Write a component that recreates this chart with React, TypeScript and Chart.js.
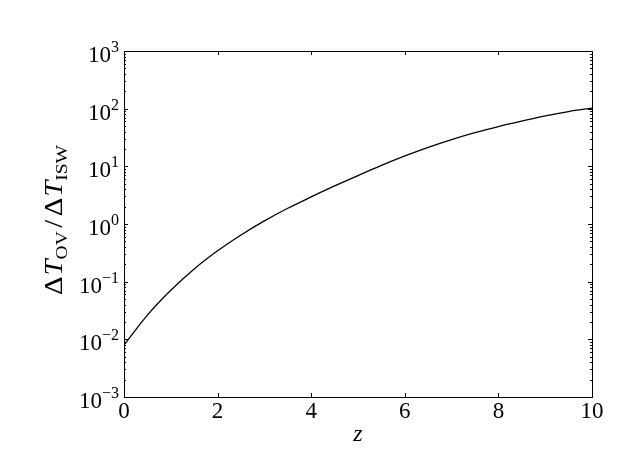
import { useEffect, useRef } from "react";
import { Chart, registerables } from "chart.js";

Chart.register(...registerables);

// ---- data ----
const zValues = [0, 0.5, 1, 1.5, 2, 2.5, 3, 3.5, 4, 4.5, 5, 5.5, 6, 6.5, 7, 7.5, 8, 8.5, 9, 9.5, 10];
const ratioValues = [
  0.00794, 0.0263, 0.0708, 0.166, 0.343, 0.646, 1.135, 1.875, 2.951, 4.571, 6.918,
  10.35, 15.14, 21.38, 29.17, 38.46, 48.98, 60.95, 74.99, 89.13, 102.3,
];
const xTickValues = [0, 2, 4, 6, 8, 10];
const xTickLabels = ["0", "2", "4", "6", "8", "10"];
const yTickExponents = [-3, -2, -1, 0, 1, 2, 3];
const yTickBase = "10";
const xAxisTitle = "z";
const yTitleParts = [
  { text: "Δ", style: "normal", sub: false, gapAfter: 1 },
  { text: "T", style: "italic", sub: false, gapAfter: 0 },
  { text: "OV", style: "normal", sub: true, gapAfter: 3 },
  { text: "/", style: "normal", sub: false, gapAfter: 3 },
  { text: "Δ", style: "normal", sub: false, gapAfter: 1 },
  { text: "T", style: "italic", sub: false, gapAfter: 0 },
  { text: "ISW", style: "normal", sub: true, gapAfter: 0 },
];

const FAMILY = '"Liberation Serif", "DejaVu Serif", serif';
const MAIN = 23;
const TITLE_MAIN = 25;
const TITLE_SUB = 17;
const SMALL = 16;
const Y_TITLE_LENGTH = 150;

function font(style: string, size: number) {
  return `${style === "italic" ? "italic " : ""}${size}px ${FAMILY}`;
}

const framePlugin = {
  id: "framePlugin",
  afterDraw(chart: any) {
    const ctx = chart.ctx as CanvasRenderingContext2D;
    const ca = chart.chartArea;
    const xs = chart.scales.x;
    const ys = chart.scales.y;
    ctx.save();
    ctx.strokeStyle = "#000";
    ctx.lineWidth = 1;
    // frame
    ctx.strokeRect(Math.round(ca.left) + 0.5, Math.round(ca.top) + 0.5, Math.round(ca.right - ca.left), Math.round(ca.bottom - ca.top));
    // x ticks
    ctx.beginPath();
    for (const v of xTickValues) {
      const px = Math.round(xs.getPixelForValue(v)) + 0.5;
      ctx.moveTo(px, ca.bottom);
      ctx.lineTo(px, ca.bottom - 4);
      ctx.moveTo(px, ca.top);
      ctx.lineTo(px, ca.top + 4);
    }
    // y ticks (major + minor)
    for (let i = 0; i < yTickExponents.length; i++) {
      const e = yTickExponents[i];
      const py = Math.round(ys.getPixelForValue(Math.pow(10, e))) + 0.5;
      ctx.moveTo(ca.left, py);
      ctx.lineTo(ca.left + 4, py);
      ctx.moveTo(ca.right, py);
      ctx.lineTo(ca.right - 4, py);
      if (i < yTickExponents.length - 1) {
        for (let m = 2; m <= 9; m++) {
          const my = Math.round(ys.getPixelForValue(m * Math.pow(10, e))) + 0.5;
          ctx.moveTo(ca.left, my);
          ctx.lineTo(ca.left + 2, my);
          ctx.moveTo(ca.right, my);
          ctx.lineTo(ca.right - 2, my);
        }
      }
    }
    ctx.stroke();

    ctx.fillStyle = "#000";
    // x tick labels
    ctx.textAlign = "center";
    ctx.textBaseline = "alphabetic";
    ctx.font = font("normal", MAIN);
    xTickValues.forEach((v, i) => {
      ctx.fillText(xTickLabels[i], xs.getPixelForValue(v), ca.bottom + 21);
    });
    // y tick labels
    for (const e of yTickExponents) {
      const py = ys.getPixelForValue(Math.pow(10, e));
      const expText = e < 0 ? "\u2212" + Math.abs(e) : String(e);
      ctx.font = font("normal", SMALL);
      const ew = ctx.measureText(expText).width;
      const right = ca.left - 5;
      ctx.textAlign = "left";
      ctx.fillText(expText, right - ew, py + 1);
      ctx.font = font("normal", MAIN);
      ctx.textAlign = "right";
      ctx.fillText(yTickBase, right - ew, py + 11);
    }
    // x title
    ctx.textAlign = "center";
    ctx.font = font("italic", MAIN + 1);
    ctx.fillText(xAxisTitle, (ca.left + ca.right) / 2, ca.bottom + 44);

    // y title (rotated)
    ctx.textAlign = "left";
    let total = 0;
    const widths = yTitleParts.map((p) => {
      ctx.font = font(p.style, p.sub ? TITLE_SUB : TITLE_MAIN);
      const w = ctx.measureText(p.text).width + p.gapAfter;
      total += w;
      return w;
    });
    const sx = Y_TITLE_LENGTH / total;
    ctx.translate(62, (ca.top + ca.bottom) / 2 - 4);
    ctx.rotate(-Math.PI / 2);
    ctx.scale(sx, 1);
    let x = -total / 2;
    yTitleParts.forEach((p, i) => {
      ctx.font = font(p.style, p.sub ? TITLE_SUB : TITLE_MAIN);
      ctx.fillText(p.text, x, p.sub ? 5 : 0);
      x += widths[i];
    });
    ctx.restore();
  },
};

export default function App() {
  const ref = useRef<HTMLCanvasElement | null>(null);
  useEffect(() => {
    if (!ref.current) return;
    const chart = new Chart(ref.current, {
      type: "line",
      data: {
        datasets: [
          {
            data: zValues.map((z, i) => ({ x: z, y: ratioValues[i] })),
            borderColor: "#000",
            borderWidth: 1.3,
            pointRadius: 0,
            fill: false,
            cubicInterpolationMode: "monotone",
          },
        ],
      },
      options: {
        animation: false,
        responsive: false,
        devicePixelRatio: 1,
        layout: { padding: { left: 124, right: 31, top: 51, bottom: 70 } },
        plugins: { legend: { display: false }, tooltip: { enabled: false } },
        scales: {
          x: { type: "linear", min: 0, max: 10, display: false },
          y: { type: "logarithmic", min: 0.001, max: 1000, display: false },
        },
      },
      plugins: [framePlugin],
    } as any);
    return () => chart.destroy();
  }, []);
  return (
    <div style={{ position: "fixed", left: 0, top: 0, width: 623, height: 467, background: "#fff" }}>
      <canvas ref={ref} width={623} height={467} />
    </div>
  );
}
